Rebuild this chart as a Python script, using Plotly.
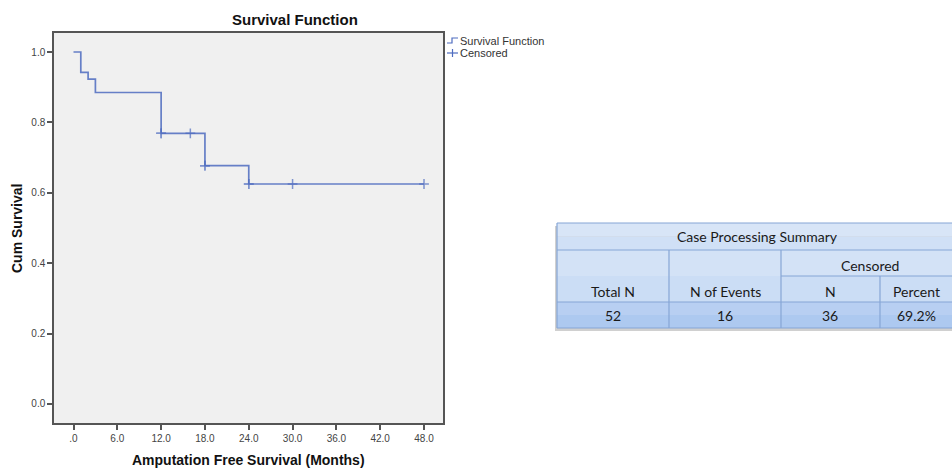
import plotly.graph_objects as go

# Kaplan-Meier estimate: event times (months) and cumulative survival after each step
step_times = [0, 1, 2, 3, 12, 18, 24, 48]
step_surv = [1.0, 0.942, 0.923, 0.885, 0.769, 0.677, 0.625, 0.625]

# Censored observations (months); repeated times mark several cases at once
censored_times = [12, 12, 16, 18, 18, 24, 24, 30, 48]

x_ticks = [0, 6, 12, 18, 24, 30, 36, 42, 48]
x_tick_labels = [".0", "6.0", "12.0", "18.0", "24.0", "30.0", "36.0", "42.0", "48.0"]
y_ticks = [0.0, 0.2, 0.4, 0.6, 0.8, 1.0]
y_tick_labels = ["0.0", "0.2", "0.4", "0.6", "0.8", "1.0"]

# Case processing summary
summary_title = "Case Processing Summary"
censored_group = "Censored"
summary_columns = ["Total N", "N of Events", "N", "Percent"]
summary_values = ["52", "16", "36", "69.2%"]

W, H = 952, 468
L, R, T, B = 54, 443, 33, 423  # plot area in pixels

LINE_COLOR = "rgb(78,108,192)"
AXIS_COLOR = "#555555"
CHART_FONT = "Liberation Sans, Arial"


def surv_at(t):
    s = step_surv[0]
    for tt, ss in zip(step_times, step_surv):
        if tt <= t:
            s = ss
    return s


def px(x):
    return (x - L) / (R - L)


def py(y):
    return (B - y) / (B - T)


fig = go.Figure()

fig.add_trace(go.Scatter(
    x=step_times, y=step_surv, mode="lines", line_shape="hv",
    line=dict(color=LINE_COLOR, width=1.7), opacity=0.85,
    name="Survival Function", showlegend=False, hoverinfo="x+y",
))
fig.add_trace(go.Scatter(
    x=censored_times, y=[surv_at(t) for t in censored_times], mode="markers",
    marker=dict(symbol="cross-thin", size=7, line=dict(color=LINE_COLOR, width=1.5)),
    opacity=0.7, name="Censored", showlegend=False,
))

shapes = []
annotations = []

# Legend drawn beside the plot area
lx0, lx1 = 447, 458
shapes.append(dict(type="path", xref="paper", yref="paper",
                   path=f"M {px(lx0)} {py(43)} L {px(452)} {py(43)} L {px(452)} {py(38)} L {px(lx1)} {py(38)}",
                   line=dict(color=LINE_COLOR, width=1.2)))
shapes.append(dict(type="line", xref="paper", yref="paper",
                   x0=px(lx0), x1=px(lx1), y0=py(53), y1=py(53),
                   line=dict(color=LINE_COLOR, width=1.2)))
shapes.append(dict(type="line", xref="paper", yref="paper",
                   x0=px(452.5), x1=px(452.5), y0=py(49), y1=py(57),
                   line=dict(color=LINE_COLOR, width=1.2)))
for label, yy in [("Survival Function", 41), ("Censored", 53)]:
    annotations.append(dict(text=label, xref="paper", yref="paper", x=px(458), y=py(yy),
                            xanchor="left", yanchor="middle", showarrow=False,
                            font=dict(family=CHART_FONT, size=11, color="#333333")))

# Title and axis titles
annotations.append(dict(text="<b>Survival Function</b>", xref="paper", yref="paper",
                        x=px(295), y=py(20), xanchor="center", yanchor="middle", showarrow=False,
                        font=dict(family=CHART_FONT, size=15, color="#111111")))
annotations.append(dict(text="<b>Amputation Free Survival (Months)</b>", xref="paper", yref="paper",
                        x=px(249), y=py(460), xanchor="center", yanchor="middle", showarrow=False,
                        font=dict(family=CHART_FONT, size=14, color="#111111")))
annotations.append(dict(text="<b>Cum Survival</b>", xref="paper", yref="paper",
                        x=px(17), y=py(229), xanchor="center", yanchor="middle", showarrow=False,
                        textangle=-90,
                        font=dict(family=CHART_FONT, size=14, color="#111111")))

# Summary table
tx0, tx1 = 557, 962
col_edges = [557, 669, 781, 880, 962]
r_top, r_title, r_group, r_head, r_bot = 223, 250, 276, 302, 328
BORDER = "#86a6d6"

# drop shadow
shapes.append(dict(type="rect", xref="paper", yref="paper",
                   x0=px(tx0 - 2), x1=px(tx1), y0=py(r_bot + 3), y1=py(r_top + 3),
                   fillcolor="rgba(120,120,120,0.35)", line=dict(width=0), layer="below"))


def band(y0, y1, c_top, c_bot):
    mid = (y0 + y1) / 2
    shapes.append(dict(type="rect", xref="paper", yref="paper",
                       x0=px(tx0), x1=px(tx1), y0=py(mid), y1=py(y0),
                       fillcolor=c_top, line=dict(width=0), layer="below"))
    shapes.append(dict(type="rect", xref="paper", yref="paper",
                       x0=px(tx0), x1=px(tx1), y0=py(y1), y1=py(mid),
                       fillcolor=c_bot, line=dict(width=0), layer="below"))


band(r_top, r_title, "#d8e5f7", "#d0e0f6")
band(r_title, r_head, "#d3e2f6", "#cbddf5")
band(r_head, r_bot, "#b8cff2", "#adc9f0")


def hline(y, x0=tx0, x1=tx1, w=1.2):
    shapes.append(dict(type="line", xref="paper", yref="paper",
                       x0=px(x0), x1=px(x1), y0=py(y), y1=py(y),
                       line=dict(color=BORDER, width=w)))


def vline(x, y0, y1, w=1.2):
    shapes.append(dict(type="line", xref="paper", yref="paper",
                       x0=px(x), x1=px(x), y0=py(y0), y1=py(y1),
                       line=dict(color=BORDER, width=w)))


hline(r_top)
hline(r_title)
hline(r_group, x0=col_edges[2])
hline(r_head)
hline(r_bot)
vline(tx0, r_top, r_bot)
vline(col_edges[1], r_title, r_bot)
vline(col_edges[2], r_title, r_bot)
vline(col_edges[3], r_group, r_bot)

TFONT = dict(family="Lato, Open Sans, sans-serif", size=14, color="#1a1a1a")
annotations.append(dict(text=summary_title, xref="paper", yref="paper",
                        x=px(757), y=py((r_top + r_title) / 2), xanchor="center", yanchor="middle",
                        showarrow=False, font=TFONT))
annotations.append(dict(text=censored_group, xref="paper", yref="paper",
                        x=px(870), y=py((r_title + r_group) / 2 + 2), xanchor="center", yanchor="middle",
                        showarrow=False, font=TFONT))
col_centers = [613, 725, 830, 916]
for cx, head, val in zip(col_centers, summary_columns, summary_values):
    annotations.append(dict(text=head, xref="paper", yref="paper",
                            x=px(cx), y=py((r_group + r_head) / 2 + 2), xanchor="center", yanchor="middle",
                            showarrow=False, font=TFONT))
    annotations.append(dict(text=val, xref="paper", yref="paper",
                            x=px(cx), y=py((r_head + r_bot) / 2), xanchor="center", yanchor="middle",
                            showarrow=False, font=TFONT))

axis_common = dict(showgrid=False, zeroline=False, showline=True, mirror=True,
                   linecolor=AXIS_COLOR, linewidth=1.5, ticks="outside", ticklen=5,
                   tickcolor=AXIS_COLOR, tickwidth=1.5,
                   tickfont=dict(family=CHART_FONT, size=10, color="#444444"))

fig.update_layout(
    width=W, height=H,
    margin=dict(l=L, r=W - R, t=T, b=H - B, pad=0),
    paper_bgcolor="white", plot_bgcolor="#f0f0f0",
    showlegend=False,
    xaxis=dict(range=[-2.67, 50.6], tickvals=x_ticks, ticktext=x_tick_labels, **axis_common),
    yaxis=dict(range=[-0.054, 1.054], tickvals=y_ticks, ticktext=y_tick_labels, **axis_common),
    shapes=shapes, annotations=annotations,
)

fig.write_html("out.html")
